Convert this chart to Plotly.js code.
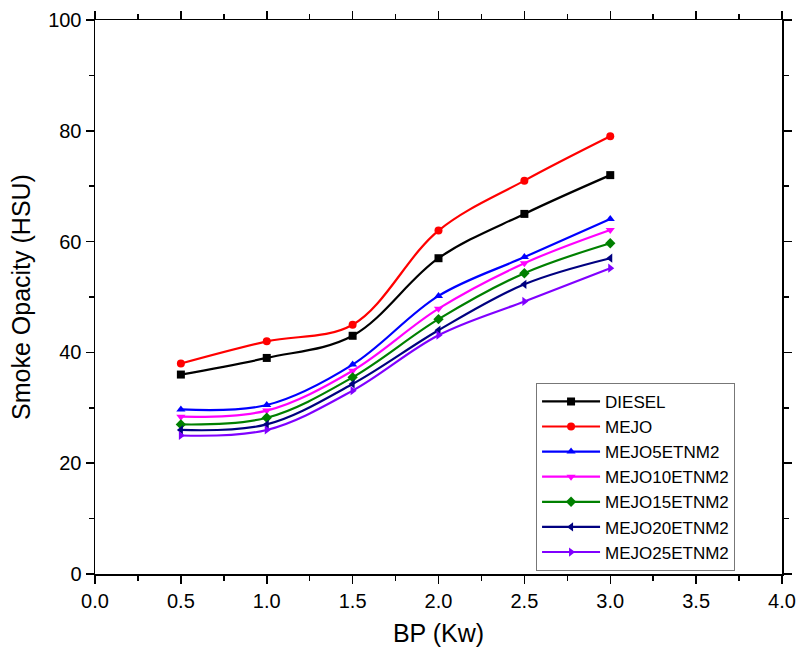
<!DOCTYPE html>
<html>
<head>
<meta charset="utf-8">
<script src="https://cdn.plot.ly/plotly-3.0.1.min.js"></script>
<style>html,body{margin:0;padding:0;background:#fff;}#chart{width:798px;height:654px;}</style>
</head>
<body>
<div id="chart"></div>
<script>
const bp = [0.5, 1.0, 1.5, 2.0, 2.5, 3.0];
const diesel   = [36.0, 39.0, 43.0, 57.0, 65.0, 72.0];
const mejo     = [38.0, 42.0, 45.0, 62.0, 71.0, 79.0];
const mejo5    = [29.7, 30.5, 37.8, 50.2, 57.2, 64.1];
const mejo10   = [28.4, 29.5, 36.7, 47.9, 56.1, 62.1];
const mejo15   = [27.0, 28.2, 35.5, 46.0, 54.3, 59.7];
const mejo20   = [26.0, 27.0, 34.3, 44.0, 52.3, 57.0];
const mejo25   = [25.0, 26.0, 33.1, 43.1, 49.2, 55.2];
const seriesNames = ["DIESEL","MEJO","MEJO5ETNM2","MEJO10ETNM2","MEJO15ETNM2","MEJO20ETNM2","MEJO25ETNM2"];
const seriesValues = [diesel, mejo, mejo5, mejo10, mejo15, mejo20, mejo25];
const colors = ["#000000","#ff0000","#0000ff","#ff00ff","#008000","#000080","#8000ff"];
const symbols = ["square","circle","triangle-up","triangle-down","diamond","triangle-left","triangle-right"];

const traces = seriesNames.map((n,i)=>({
  x: bp, y: seriesValues[i], name: n, type: 'scatter', mode: 'lines+markers',
  line: {color: colors[i], width: 2.2, shape: 'spline', smoothing: 1},
  marker: {color: colors[i], symbol: symbols[i], size: 8}
}));

const FONT = 'Liberation Sans, Arial, sans-serif';
const tickFont = {family: FONT, size: 20, color: '#000'};
const layout = {
  width: 798, height: 654,
  margin: {l: 95, r: 16, t: 20, b: 80},
  paper_bgcolor: '#fff', plot_bgcolor: '#fff',
  showlegend: true,
  font: {family: FONT, color: '#000'},
  xaxis: {
    range: [0, 4], dtick: 0.5, tick0: 0, tickformat: '.1f',
    showgrid: false, zeroline: false, showline: true, mirror: 'allticks',
    linecolor: '#000', linewidth: 1.5,
    ticks: 'outside', ticklen: 8, tickwidth: 1.5, tickcolor: '#000',
    minor: {ticks: 'outside', ticklen: 5, tickwidth: 1.5, tickcolor: '#000', dtick: 0.25, showgrid: false},
    tickfont: tickFont,
    title: {text: 'BP (Kw)', font: {size: 25, family: FONT}, standoff: 14}
  },
  yaxis: {
    range: [0, 100], dtick: 20, tick0: 0,
    showgrid: false, zeroline: false, showline: true, mirror: 'allticks',
    linecolor: '#000', linewidth: 1.5,
    ticks: 'outside', ticklen: 8, tickwidth: 1.5, tickcolor: '#000',
    minor: {ticks: 'outside', ticklen: 5, tickwidth: 1.5, tickcolor: '#000', dtick: 10, showgrid: false},
    tickfont: tickFont,
    title: {text: 'Smoke Opacity (HSU)', font: {size: 25, family: FONT}, standoff: 10}
  },
  legend: {
    x: 0.642, y: 0.345, xanchor: 'left', yanchor: 'top',
    bordercolor: '#777', borderwidth: 1, bgcolor: '#fff',
    font: {size: 17, family: FONT, color: '#000'},
    itemwidth: 58, tracegroupgap: 0
  }
};
Plotly.newPlot('chart', traces, layout, {displayModeBar: false, staticPlot: true});
</script>
</body>
</html>
